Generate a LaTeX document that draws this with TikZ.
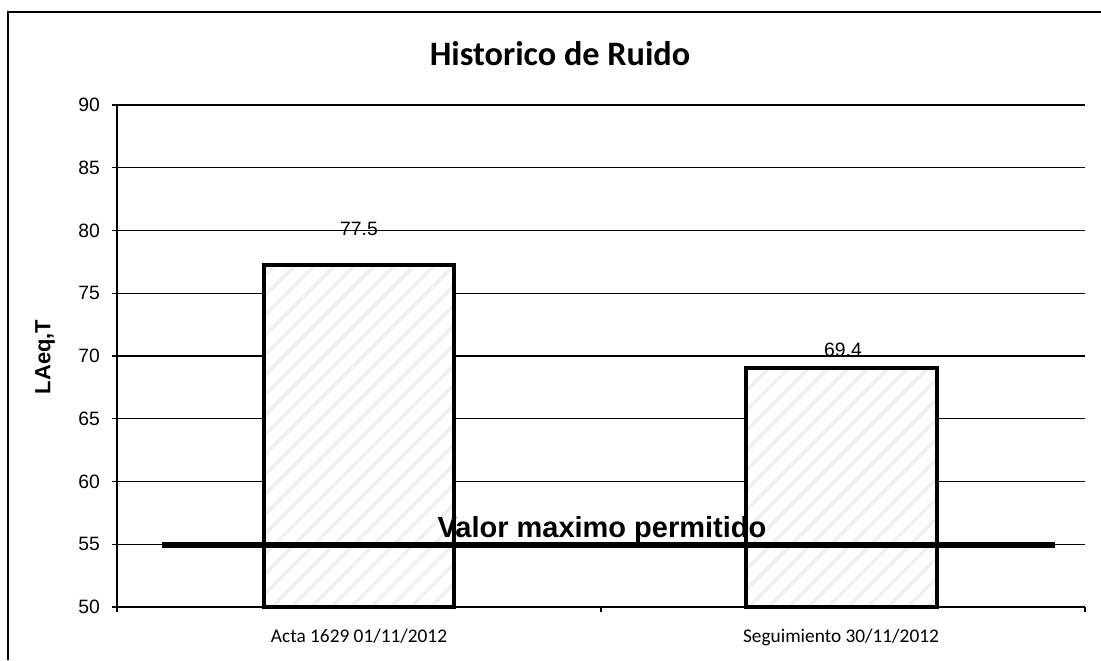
\documentclass[tikz,border=0pt]{standalone}
\usepackage{fontspec}
\setmainfont{Carlito}
\newfontfamily\arialfont{Liberation Sans}
\usetikzlibrary{patterns.meta}

\begin{document}
\begin{tikzpicture}[x=0.02cm, y=-0.02cm,
	frame/.style={line width=1.7pt},
	grid/.style={line width=0.7pt},
	bar/.style={draw=black, line width=2.3pt, preaction={fill=white},
		preaction={pattern={Lines[angle=45,distance=8pt,line width=2pt]}, pattern color=black!6}},
	ylab/.style={anchor=east, font=\arialfont\fontsize{11}{13}\selectfont},
	vlab/.style={anchor=base, font=\arialfont\fontsize{11}{13}\selectfont},
	catlab/.style={anchor=base, font=\fontsize{11}{13}\selectfont}]

	\useasboundingbox (0,0) rectangle (1101,660);
	\draw[frame] (8,660)--(8,12)--(1101,12);

	\node[anchor=base, font=\bfseries\fontsize{19.5}{22}\selectfont] (title) at (560,65) {Historico de Ruido};
	\node[rotate=90, font=\arialfont\bfseries\fontsize{12.5}{14}\selectfont] (ylabel) at (45,357) {LAeq,T};

	\def \b {105}
	\draw[grid] (112,\b)--(1085,\b);
	\node[ylab] (y90) at (106,\b) {90};
	\def \b {167.8}
	\draw[grid] (112,\b)--(1085,\b);
	\node[ylab] (y85) at (106,\b) {85};
	\def \b {230.5}
	\draw[grid] (112,\b)--(1085,\b);
	\node[ylab] (y80) at (106,\b) {80};
	\def \b {293.3}
	\draw[grid] (112,\b)--(1085,\b);
	\node[ylab] (y75) at (106,\b) {75};
	\def \b {356}
	\draw[grid] (112,\b)--(1085,\b);
	\node[ylab] (y70) at (106,\b) {70};
	\def \b {418.8}
	\draw[grid] (112,\b)--(1085,\b);
	\node[ylab] (y65) at (106,\b) {65};
	\def \b {481.5}
	\draw[grid] (112,\b)--(1085,\b);
	\node[ylab] (y60) at (106,\b) {60};
	\def \b {544.3}
	\draw[grid] (112,\b)--(1085,\b);
	\node[ylab] (y55) at (106,\b) {55};
	\def \b {607}
	\draw[grid] (112,\b)--(1085,\b);
	\node[ylab] (y50) at (106,\b) {50};

	\draw[grid] (117,105)--(117,612);
	\draw[grid] (601,607)--(601,612);
	\draw[grid] (1085,607)--(1085,612);

	\draw[bar] (264,265) rectangle (454,607);
	\draw[bar] (746,368) rectangle (937,607);

	\node[vlab] (val1) at (359,235) {77.5};
	\node[vlab] (val2) at (843,356) {69.4};

	\draw[line width=3.4pt] (162,545)--(1055,545);
	\node[anchor=base, font=\arialfont\bfseries\fontsize{16.5}{18}\selectfont] (limit) at (602,537) {Valor maximo permitido};

	\node[catlab] (cat1) at (359,642) {Acta 1629 01/11/2012};
	\node[catlab] (cat2) at (841,642) {Seguimiento 30/11/2012};

\end{tikzpicture}
\end{document}
